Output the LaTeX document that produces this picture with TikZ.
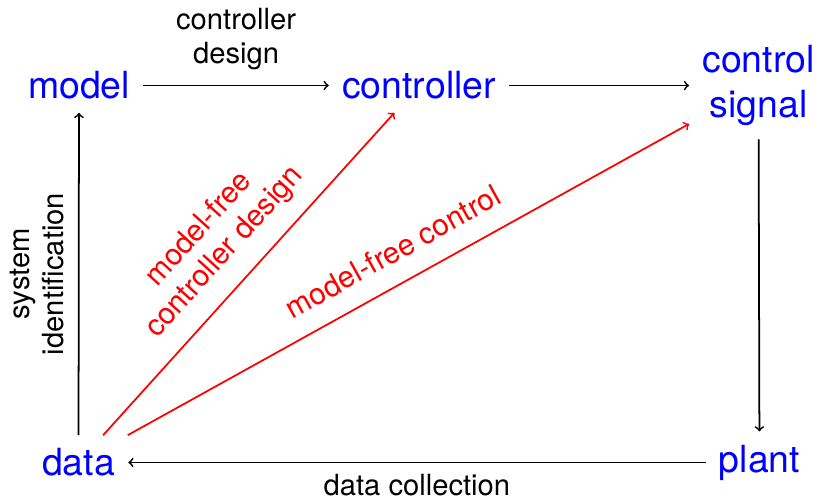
\documentclass[tikz,border=0pt]{standalone}
\usepackage{fontspec}
\setmainfont{TeX Gyre Heros}

\begin{document}
\begin{tikzpicture}[myv/.style={text=blue, font=\fontsize{21.3}{26}\selectfont, inner sep=0.25cm, align=center},myl/.style={font=\fontsize{16.6}{19.2}\selectfont, align=center},myr/.style={text=red, font=\fontsize{17}{19.6}\selectfont, align=center, sloped},>=to,line width=1pt]
 % \draw[help lines] (0,0) grid (16,10);
  \useasboundingbox (0,0) rectangle (16.36,9.98);

  \node[myv] (model) at (1.58,8.27) {model};
  \node[myv] (ctrl) at (8.38,8.27) {controller};
  \node[myv] (sig) at (15.17,8.27) {control\\signal};

  \node[myv] (data) at (1.57,0.73) {data};
  \node[myv] (plant) at (15.19,0.73) {plant};

    \draw[->] (model) -- node[myl, above, inner sep=0.3cm] {controller\\design} (ctrl);
    \draw[->] (ctrl) -- (sig);
    \draw[->] (sig) -- (plant);
    \draw[->] (plant) -- node[myl, below, inner sep=0pt, yshift=-0.21cm] {data collection} (data);
    \draw[->] (data) -- node[myl, above, rotate=90, inner sep=0.28cm] {system\\identification} (model);
    \draw[->, red] (data) -- node[myr, above, inner sep=0.34cm] {model-free\\controller design} (ctrl);
    \draw[->, red] (data) -- node[myr, above, inner sep=0.4cm] {model-free control} (sig);

\end{tikzpicture}
\end{document}
